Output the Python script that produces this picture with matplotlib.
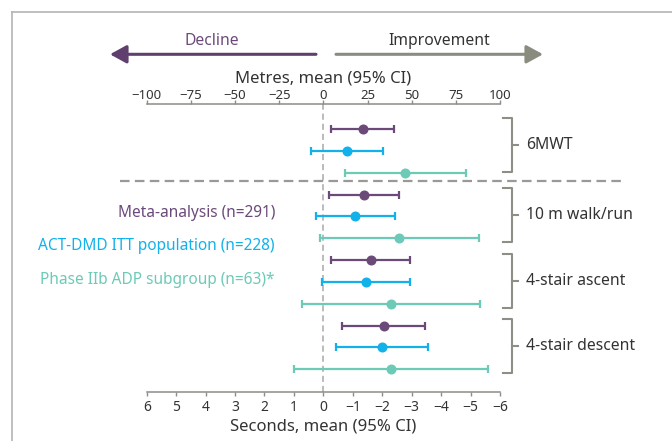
import matplotlib
matplotlib.use('Agg')
import matplotlib.pyplot as plt
from matplotlib.transforms import blended_transform_factory

plt.rcParams['font.family'] = ['Noto Sans', 'DejaVu Sans']

# ---- data ----
series = ['Meta-analysis (n=291)', 'ACT-DMD ITT population (n=228)', 'Phase IIb ADP subgroup (n=63)*']
colors = ['#6b4a7a', '#12b1ea', '#6ccab6']

groups = ['6MWT', '10 m walk/run', '4-stair ascent', '4-stair descent']

# 6MWT (metres): mean, lower CI, upper CI per series
mwt_mean = [22.5, 13.2, 46.4]
mwt_lo = [4.5, -7.1, 12.3]
mwt_hi = [40.0, 33.8, 80.8]

# Timed tests (seconds): rows = test, cols = series
timed_mean = [[-1.38, -1.09, -2.58],
              [-1.62, -1.45, -2.29],
              [-2.06, -2.00, -2.31]]
timed_lo = [[-0.18, 0.25, 0.11],
            [-0.27, 0.03, 0.73],
            [-0.64, -0.44, 1.00]]
timed_hi = [[-2.58, -2.42, -5.28],
            [-2.94, -2.94, -5.31],
            [-3.45, -3.56, -5.59]]

seconds_ticks = [6, 5, 4, 3, 2, 1, 0, -1, -2, -3, -4, -5, -6]
metres_ticks = [-100, -75, -50, -25, 0, 25, 50, 75, 100]

W, H = 672, 441
def fx(x): return x / W
def fy(y): return 1 - y / H

fig = plt.figure(figsize=(W / 100, H / 100), dpi=100)
ax = fig.add_axes([fx(146.7), 49 / H, (500 - 146.7) / W, (392 - 104) / H])
ax.set_xlim(6, -6)
ax.set_ylim(12.04, -1.144)
axm = ax.twiny()
axm.set_xlim(-100, 100)

axis_gray = '#8c8c88'
txt = '#333333'

for a in (ax, axm):
    for s in ('left', 'right'):
        a.spines[s].set_visible(False)
    a.tick_params(axis='y', left=False, right=False, labelleft=False, labelright=False)
ax.spines['top'].set_visible(False)
axm.spines['bottom'].set_visible(False)
ax.spines['bottom'].set_color(axis_gray)
axm.spines['top'].set_color(axis_gray)
ax.spines['bottom'].set_linewidth(1.1)
axm.spines['top'].set_linewidth(1.1)

ax.set_xticks(seconds_ticks)
axm.set_xticks(metres_ticks)
ax.tick_params(axis='x', colors=axis_gray, labelcolor=txt, labelsize=10, length=3, width=1, pad=2.5)
axm.tick_params(axis='x', colors=axis_gray, labelcolor=txt, labelsize=9.5, length=3, width=1, pad=-1.2)
ax.set_xlabel('Seconds, mean (95% CI)', fontsize=12, color=txt, labelpad=3)
axm.set_xlabel('Metres, mean (95% CI)', fontsize=12, color=txt, labelpad=4)

# zero line
ax.axvline(0, color='#a8a8a8', lw=1.1, ls=(0, (4, 2.6)), zorder=1)

ekw = dict(fmt='o', ms=6.2, capsize=3, elinewidth=1.6, capthick=1.6, zorder=3)
# 6MWT on metres axis
for s in range(3):
    m = mwt_mean[s]
    lo, hi = min(mwt_lo[s], mwt_hi[s]), max(mwt_lo[s], mwt_hi[s])
    axm.errorbar([m], [s], xerr=[[m - lo], [hi - m]], color=colors[s], **ekw)
# timed tests on seconds axis
for g in range(3):
    for s in range(3):
        m = timed_mean[g][s]
        lo, hi = min(timed_lo[g][s], timed_hi[g][s]), max(timed_lo[g][s], timed_hi[g][s])
        ax.errorbar([m], [3 * (g + 1) + s], xerr=[[m - lo], [hi - m]], color=colors[s], **ekw)

bt = blended_transform_factory(fig.transFigure, ax.transData)
# separator
ax.plot([fx(120), fx(623)], [2.4, 2.4], transform=bt, clip_on=False,
        color='#9a9a94', lw=1.6, ls=(0, (4.3, 2.4)))

# braces
brace_spans = [(-0.5, 1.95), (2.72, 5.16), (5.72, 8.21), (8.71, 11.18)]
brace_col = '#8e8e86'
for (t, b), name in zip(brace_spans, groups):
    mid = (t + b) / 2
    ax.plot([fx(503.5), fx(511.5), fx(511.5), fx(503.5)], [t, t, b, b], transform=bt,
            clip_on=False, color=brace_col, lw=1.5, solid_joinstyle='round')
    ax.plot([fx(511.5), fx(518)], [mid, mid], transform=bt, clip_on=False, color=brace_col, lw=1.5)
    ax.text(fx(526.5), mid, name, transform=bt, ha='left', va='center', fontsize=11.3, color=txt)

# legend-like labels
for s, yy in zip(range(3), [213, 245.5, 280]):
    fig.text(fx(275), fy(yy), series[s], ha='right', va='center', fontsize=11.1, color=colors[s])

# direction arrows
fig.add_artist(matplotlib.patches.FancyArrowPatch((fx(316), fy(54.3)), (fx(110), fy(54.3)),
               transform=fig.transFigure, arrowstyle='-|>,head_length=1.0,head_width=0.55',
               mutation_scale=10, lw=2.2, color='#5f3f6e', shrinkA=0, shrinkB=0))
fig.add_artist(matplotlib.patches.FancyArrowPatch((fx(336), fy(54.3)), (fx(543), fy(54.3)),
               transform=fig.transFigure, arrowstyle='-|>,head_length=1.0,head_width=0.55',
               mutation_scale=10, lw=2.2, color='#8b8c80', shrinkA=0, shrinkB=0))
fig.text(fx(212), fy(41), 'Decline', ha='center', va='center', fontsize=11.3, color='#6b4a7a')
fig.text(fx(439), fy(41), 'Improvement', ha='center', va='center', fontsize=11.3, color=txt)

# frame (top and left borders)
fig.add_artist(matplotlib.lines.Line2D([fx(11.5), 1], [fy(11.5), fy(11.5)], transform=fig.transFigure,
                                       color='#b4b4b4', lw=1.2))
fig.add_artist(matplotlib.lines.Line2D([fx(11.5), fx(11.5)], [fy(11.5), 0], transform=fig.transFigure,
                                       color='#b4b4b4', lw=1.2))

fig.savefig('out.png', dpi=100)
